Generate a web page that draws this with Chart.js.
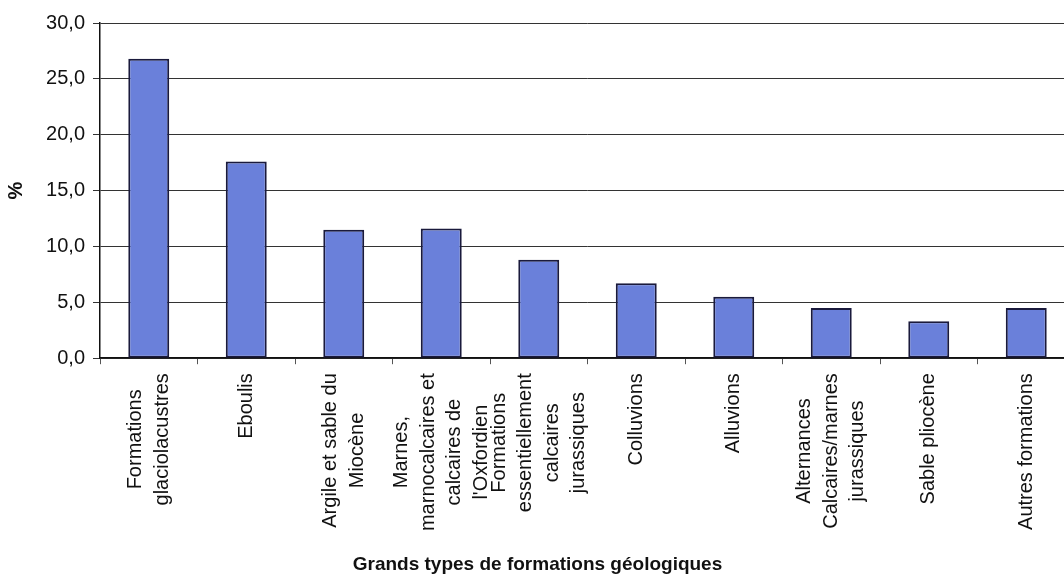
<!DOCTYPE html>
<html>
<head>
<meta charset="utf-8">
<script src="https://cdn.jsdelivr.net/npm/chart.js@4"></script>
<style>
  body { margin: 0; background: #fff; overflow: hidden; }
  #wrap { width: 1076px; height: 576px; }
</style>
</head>
<body>
<div id="wrap"><canvas id="formationsChart"></canvas></div>
<script>
// categories (one array of lines per bar)
const categories = [
  ["Formations", "glaciolacustres"],
  ["Eboulis"],
  ["Argile et sable du", "Miocène"],
  ["Marnes,", "marnocalcaires et", "calcaires de", "l'Oxfordien"],
  ["Formations", "essentiellement", "calcaires", "jurassiques"],
  ["Colluvions"],
  ["Alluvions"],
  ["Alternances", "Calcaires/marnes", "jurassiques"],
  ["Sable pliocène"],
  ["Autres formations"]
];
// share of each formation type (%)
const percentages = [26.8, 17.6, 11.5, 11.6, 8.8, 6.7, 5.5, 4.5, 3.3, 4.5];
const yTicks = [0, 5, 10, 15, 20, 25, 30];

const FONT = "'Liberation Sans', Arial, sans-serif";

// draws the vertical category labels, lines centred inside each block
const verticalLabels = {
  id: "verticalLabels",
  afterDraw(chart) {
    const ctx = chart.ctx;
    const xScale = chart.scales.x;
    const pitch = 26.5;
    const blockTop = xScale.top + 15;
    ctx.save();
    ctx.font = "20px " + FONT;
    ctx.fillStyle = "#111";
    ctx.textAlign = "center";
    ctx.textBaseline = "middle";
    categories.forEach((lines, i) => {
      const px = xScale.getPixelForTick(i);
      const maxW = Math.max(...lines.map(l => ctx.measureText(l).width));
      lines.forEach((line, j) => {
        const x = px + (j - (lines.length - 1) / 2) * pitch;
        ctx.save();
        ctx.translate(x, blockTop + maxW / 2);
        ctx.rotate(-Math.PI / 2);
        ctx.fillText(line, 0, 0);
        ctx.restore();
      });
    });
    ctx.restore();
  }
};

new Chart(document.getElementById("formationsChart"), {
  type: "bar",
  data: {
    labels: categories.map(c => c.join(" ")),
    datasets: [
      {
        data: percentages,
        backgroundColor: "#6a80da",
        borderColor: "#1a1a3c",
        borderWidth: 2,
        borderSkipped: false,
        categoryPercentage: 1,
        barPercentage: 0.42
      }
    ]
  },
  options: {
    responsive: true,
    maintainAspectRatio: false,
    animation: false,
    layout: { padding: { top: 23, right: 1, left: 0, bottom: 0 } },
    plugins: {
      legend: { display: false },
      tooltip: { enabled: false },
      title: {
        display: true,
        position: "bottom",
        text: "Grands types de formations géologiques",
        color: "#111",
        font: { family: FONT, size: 19, weight: "bold" },
        padding: 0
      }
    },
    scales: {
      x: {
        ticks: { display: false },
        grid: {
          offset: true,
          drawOnChartArea: false,
          drawTicks: true,
          tickLength: 6,
          color: "#555"
        },
        border: { color: "#111", width: 1.5 },
        afterFit(scale) { scale.height = 195; }
      },
      y: {
        min: 0,
        max: 30,
        afterBuildTicks(scale) { scale.ticks = yTicks.map(v => ({ value: v })); },
        ticks: {
          color: "#111",
          padding: 8,
          font: { family: FONT, size: 20 },
          callback: v => v.toFixed(1).replace(".", ",")
        },
        grid: { color: "#333", lineWidth: 1, tickLength: 7 },
        border: { color: "#111", width: 1.5 },
        title: {
          display: true,
          text: "%",
          color: "#111",
          font: { family: FONT, size: 20, weight: "bold" },
          padding: { top: 4, bottom: 0 }
        },
        afterFit(scale) { scale.width = 100; }
      }
    }
  },
  plugins: [verticalLabels]
});
</script>
</body>
</html>
